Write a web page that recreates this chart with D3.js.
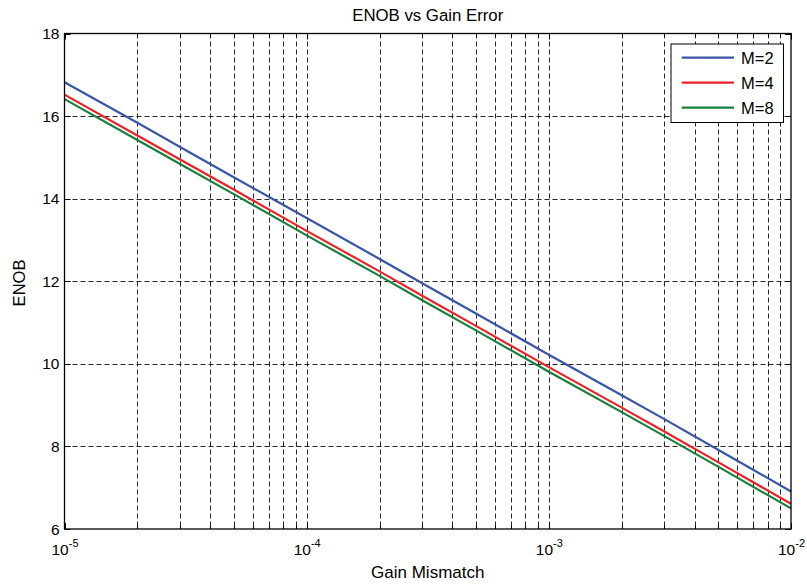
<!DOCTYPE html>
<html>
<head>
<meta charset="utf-8">
<script src="https://cdn.jsdelivr.net/npm/d3@7"></script>
<style>
  body { margin: 0; background: #fff; }
  text { font-family: "Liberation Sans", Arial, sans-serif; fill: #000; }
</style>
</head>
<body>
<div id="chart"></div>
<script>
// Gain mismatch samples
var gain = [1e-5, 2e-5, 3e-5, 5e-5, 1e-4, 2e-4, 3e-4, 5e-4, 1e-3, 2e-3, 3e-3, 5e-3, 1e-2];

// ENOB per series
var enobM2 = [16.82, 15.84, 15.25, 14.52, 13.53, 12.54, 11.95, 11.22, 10.22, 9.24, 8.66, 7.92, 6.91];
var enobM4 = [16.52, 15.53, 14.95, 14.22, 13.22, 12.24, 11.65, 10.92, 9.92, 8.94, 8.36, 7.62, 6.61];
var enobM8 = [16.41, 15.42, 14.84, 14.11, 13.11, 12.13, 11.54, 10.81, 9.81, 8.83, 8.25, 7.51, 6.50];

var seriesNames = ['M=2', 'M=4', 'M=8'];
var seriesColors = ['#3a55a5', '#ec2227', '#17803e'];

var yTicks = [6, 8, 10, 12, 14, 16, 18];
var xDecades = [-5, -4, -3, -2];

var WIDTH = 807, HEIGHT = 584;
var margin = {left: 64.5, right: 16, top: 33.5, bottom: 55};

var svg = d3.select('#chart').append('svg')
    .attr('width', WIDTH)
    .attr('height', HEIGHT);

var x = d3.scaleLog().domain([1e-5, 1e-2]).range([margin.left, WIDTH - margin.right]);
var y = d3.scaleLinear().domain([6, 18]).range([HEIGHT - margin.bottom, margin.top]);

var x0 = x.range()[0], x1 = x.range()[1];
var y0 = y.range()[0], y1 = y.range()[1];

// minor + major positions on the log axis
var xGrid = [];
for (var d = -5; d < -2; d++) {
    for (var m = 1; m < 10; m++) {
        xGrid.push(m * Math.pow(10, d));
    }
}
xGrid.push(1e-2);

var grid = svg.append('g').attr('class', 'grid');

grid.selectAll('line.vgrid').data(xGrid.slice(1, -1)).enter()
    .append('line')
    .attr('x1', function(v) { return Math.round(x(v)) + 0.5; })
    .attr('x2', function(v) { return Math.round(x(v)) + 0.5; })
    .attr('y1', y1).attr('y2', y0)
    .style('stroke', '#000')
    .style('stroke-width', 1)
    .style('stroke-dasharray', '5,3')
    .style('opacity', 0.85);

grid.selectAll('line.hgrid').data(yTicks.slice(1, -1)).enter()
    .append('line')
    .attr('x1', x0).attr('x2', x1)
    .attr('y1', function(v) { return Math.round(y(v)) + 0.5; })
    .attr('y2', function(v) { return Math.round(y(v)) + 0.5; })
    .style('stroke', '#000')
    .style('stroke-width', 1)
    .style('stroke-dasharray', '5,3')
    .style('opacity', 0.85);

// series lines
var line = d3.line()
    .x(function(p) { return x(p[0]); })
    .y(function(p) { return y(p[1]); });

var allSeries = [enobM2, enobM4, enobM8];

svg.append('g').selectAll('path').data(allSeries).enter()
    .append('path')
    .attr('d', function(vals) { return line(gain.map(function(g, i) { return [g, vals[i]]; })); })
    .style('fill', 'none')
    .style('stroke', function(vals, i) { return seriesColors[i]; })
    .style('stroke-width', 2.2);

// ticks (inside, on all four sides)
var ticks = svg.append('g').style('stroke', '#000').style('stroke-width', 1);

xGrid.forEach(function(v) {
    var major = Math.abs(Math.log10(v) - Math.round(Math.log10(v))) < 1e-9;
    var len = major ? 6 : 3.5;
    var px = Math.round(x(v)) + 0.5;
    ticks.append('line').attr('x1', px).attr('x2', px).attr('y1', y0).attr('y2', y0 - len);
    ticks.append('line').attr('x1', px).attr('x2', px).attr('y1', y1).attr('y2', y1 + len);
});

yTicks.forEach(function(v) {
    var py = Math.round(y(v)) + 0.5;
    ticks.append('line').attr('x1', x0).attr('x2', x0 + 6).attr('y1', py).attr('y2', py);
    ticks.append('line').attr('x1', x1).attr('x2', x1 - 6).attr('y1', py).attr('y2', py);
});

// box
svg.append('rect')
    .attr('x', x0).attr('y', y1)
    .attr('width', x1 - x0).attr('height', y0 - y1)
    .style('fill', 'none')
    .style('stroke', '#000')
    .style('stroke-width', 1.3);

// y tick labels
svg.append('g').selectAll('text').data(yTicks).enter()
    .append('text')
    .attr('x', x0 - 5)
    .attr('y', function(v) { return y(v) + 5.5; })
    .attr('text-anchor', 'end')
    .style('font-size', '15.5px')
    .text(function(v) { return v; });

// x tick labels: 10 with superscript exponent
var xl = svg.append('g').selectAll('text').data(xDecades).enter()
    .append('text')
    .attr('x', function(e) { return x(Math.pow(10, e)) + 0.5; })
    .attr('y', 555)
    .attr('text-anchor', 'middle')
    .style('font-size', '15.5px');
xl.append('tspan').text('10');
xl.append('tspan')
    .attr('dy', -8.5)
    .style('font-size', '11px')
    .text(function(e) { return '-' + Math.abs(e); });

// title and axis labels
svg.append('text')
    .attr('x', (x0 + x1) / 2).attr('y', 20.7)
    .attr('text-anchor', 'middle')
    .style('font-size', '16.8px')
    .text('ENOB vs Gain Error');

svg.append('text')
    .attr('x', (x0 + x1) / 2).attr('y', 578.3)
    .attr('text-anchor', 'middle')
    .style('font-size', '17px')
    .text('Gain Mismatch');

svg.append('text')
    .attr('transform', 'translate(25,283) rotate(-90)')
    .attr('text-anchor', 'middle')
    .style('font-size', '16.5px')
    .text('ENOB');

// legend
var legend = svg.append('g').attr('transform', 'translate(671,44)');
legend.append('rect')
    .attr('width', 112.5).attr('height', 78.5)
    .style('fill', '#fff')
    .style('stroke', '#000')
    .style('stroke-width', 1);

var rows = legend.selectAll('g.row').data(seriesNames).enter()
    .append('g')
    .attr('transform', function(n, i) { return 'translate(0,' + (13.7 + i * 25) + ')'; });

rows.append('line')
    .attr('x1', 10.7).attr('x2', 63)
    .style('stroke', function(n, i) { return seriesColors[i]; })
    .style('stroke-width', 2.2);

rows.append('text')
    .attr('x', 70).attr('y', 6)
    .style('font-size', '16.5px')
    .text(function(n) { return n; });
</script>
</body>
</html>
